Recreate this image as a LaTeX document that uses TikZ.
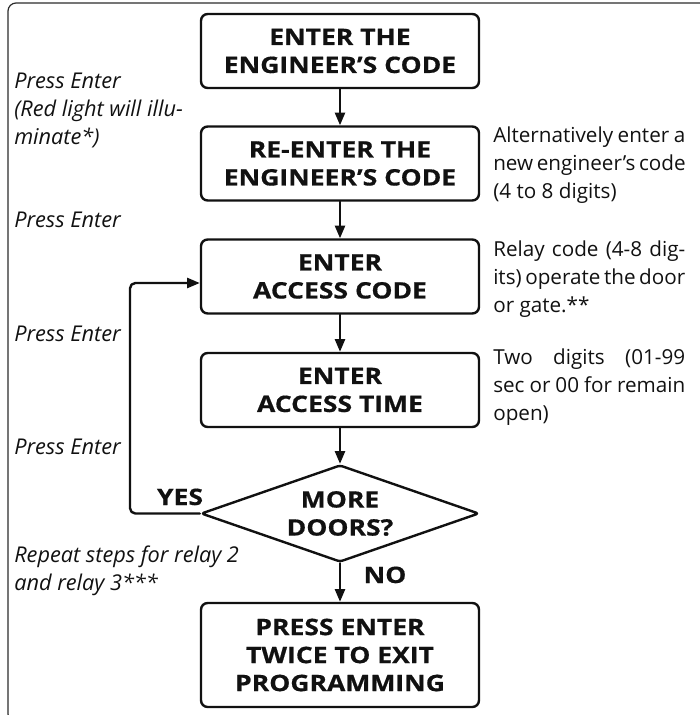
\documentclass[tikz,border=0pt]{standalone}
\usepackage{fontspec}
\setmainfont{Open Sans}
\newfontfamily\boxfont{Open Sans}[FakeStretch=1.17, BoldFeatures={FakeBold=0.6}]
\usetikzlibrary{shapes.geometric,arrows.meta}
\definecolor{ink}{HTML}{111111}
\definecolor{frame}{HTML}{2b2b2b}
\newcommand{\jline}[1]{\makebox[144pt][s]{#1}}

\begin{document}
\begin{tikzpicture}[
  x=0.75pt, y=-0.75pt,
  line cap=round, line join=round,
  every node/.style={inner sep=0pt, text=ink},
  stepbox/.style={draw=ink, line width=1.8pt, rounded corners=5pt, minimum width=208.5pt, minimum height=55.5pt, align=center, font=\boxfont\fontsize{17}{21}\selectfont\bfseries},
  decision/.style={diamond, aspect=2.87, draw=ink, line width=1.8pt, rounded corners=2pt, minimum width=208.5pt, minimum height=72.75pt, align=center, font=\boxfont\fontsize{17}{21}\selectfont\bfseries},
  flow/.style={draw=ink, line width=1.8pt, -{Triangle[length=9.5pt,width=7.5pt]}},
  note/.style={anchor=north west, align=left, font=\fontsize{16.3}{21}\selectfont\itshape},
  side/.style={anchor=north west, align=left, font=\fontsize{15.5}{21}\selectfont},
  answer/.style={anchor=base, font=\boxfont\fontsize{17}{21}\selectfont\bfseries},
]
\clip (0,0) rectangle (700,715);
\draw[frame, line width=0.9pt, rounded corners=6pt] (8,3) rectangle (716,722);

\node[stepbox] (engcode) at (340,51) {ENTER THE\\ENGINEER’S CODE};
\node[stepbox] (reenter) at (340,163.5) {RE-ENTER THE\\ENGINEER’S CODE};
\node[stepbox] (access) at (340,276.5) {ENTER\\ACCESS CODE};
\node[stepbox] (acctime) at (340,390) {ENTER\\ACCESS TIME};
\node[decision] (more) at (340,513.5) {MORE\\DOORS?};
\node[stepbox, minimum height=78pt] (exit) at (340,655) {PRESS ENTER\\TWICE TO EXIT\\PROGRAMMING};

\draw[flow] (engcode) -- (reenter);
\draw[flow] (reenter) -- (access);
\draw[flow] (access) -- (acctime);
\draw[flow] (acctime) -- (more);
\draw[flow] (more) -- (exit);
\coordinate (loop) at (130,283);
\draw[flow, rounded corners=4pt] (more.west) -| (loop) -- (loop -| access.west);

\node[answer] (yes) at (180,505) {YES};
\node[answer] (no) at (385,583) {NO};

\node[note] (enter1) at (14,73) {Press Enter\\(Red light will illu-\\minate*)};
\node[note] (enter2) at (14,212) {Press Enter};
\node[note] (enter3) at (14,326) {Press Enter};
\node[note] (enter4) at (14,439) {Press Enter};
\node[note] (repeat) at (14,546) {Repeat steps for relay 2\\and relay 3***};

\node[side] (newcode) at (493,127) {\jline{Alternatively enter a}\\\jline{new engineer’s code}\\(4 to 8 digits)};
\node[side] (relay) at (493,241) {\jline{Relay code (4-8 dig-}\\\jline{its) operate the door}\\or gate.**};
\node[side] (digits) at (493,349) {\jline{Two digits (01-99}\\\jline{sec or 00 for remain}\\open)};
\end{tikzpicture}
\end{document}
